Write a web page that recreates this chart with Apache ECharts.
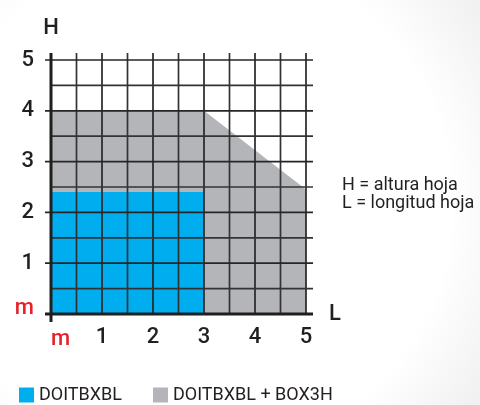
<!DOCTYPE html>
<html>
<head>
<meta charset="utf-8">
<script src="https://cdn.jsdelivr.net/npm/echarts@6/dist/echarts.min.js"></script>
<style>
  html, body { margin: 0; padding: 0; background: #fff; }
  #chart { width: 480px; height: 405px; }
</style>
</head>
<body>
<div id="chart"></div>
<script>
// Series names (legend order)
const seriesNames = ['DOITBXBL', 'DOITBXBL + BOX3H'];

// DOITBXBL: usable zone, length L (m) vs height H (m)
const blueL = [0, 3];
const blueH = [2.4, 2.4];

// DOITBXBL + BOX3H: upper outline of the zone
const grayL = [0, 3, 5];
const grayH = [4, 4, 2.45];

// Axis ticks and their labels
const tickValues = [0, 1, 2, 3, 4, 5];
const tickLabels = ['m', '1', '2', '3', '4', '5'];

// Grid every half metre
const gridValues = [0, 0.5, 1, 1.5, 2, 2.5, 3, 3.5, 4, 4.5, 5];

const notes = ['H = altura hoja', 'L = longitud hoja'];

const FONT = 'Roboto';
const TEXT = '#231f20';
const RED = '#e8202a';
const BLUE = '#00aeef';
const GRAY = '#b4b5b9';

const toPairs = (xs, ys) => xs.map((x, i) => [x, ys[i]]);

// one entry per grid line: [value, 0 = vertical | 1 = horizontal]
const gridData = [];
gridValues.forEach(v => gridData.push([v, 0]));
gridValues.forEach(v => gridData.push([v, 1]));

const lo = tickValues[0], hi = tickValues[tickValues.length - 1];

function renderGridLine(params, api) {
  const v = api.value(0);
  const horizontal = api.value(1) === 1;
  const isInt = Math.abs(v - Math.round(v)) < 1e-9;
  const isAxis = v === lo;
  let p0, p1;
  if (horizontal) {
    p0 = api.coord([lo, v]);
    p1 = api.coord([hi, v]);
    if (isInt) p0[0] -= 6;      // tick mark to the left
    p1[0] += 7;
  } else {
    p0 = api.coord([v, lo]);
    p1 = api.coord([v, hi]);
    if (isAxis) p0[1] += 8;     // axis runs below the baseline
    p1[1] -= 7;
  }
  return {
    type: 'line',
    z2: isAxis ? 10 : 1,
    shape: { x1: p0[0], y1: p0[1], x2: p1[0], y2: p1[1] },
    style: {
      stroke: isAxis ? '#1f1f1f' : (isInt ? '#262626' : '#333333'),
      lineWidth: isAxis ? 3 : 1.7
    }
  };
}

const labelFormatter = v => {
  const i = tickValues.indexOf(v);
  const t = i >= 0 ? tickLabels[i] : '';
  return t === 'm' ? '{m|m}' : t;
};

const chart = echarts.init(document.getElementById('chart'), null, { renderer: 'canvas' });

chart.setOption({
  animation: false,
  backgroundColor: {
    type: 'radial', x: 0.4, y: 0.5, r: 0.85,
    colorStops: [
      { offset: 0, color: '#ffffff' },
      { offset: 0.75, color: '#ffffff' },
      { offset: 1, color: '#f1f1f1' }
    ]
  },
  textStyle: { fontFamily: FONT },
  grid: { left: 51, right: 174, top: 60, bottom: 91 },
  xAxis: {
    type: 'value', min: lo, max: hi, interval: 1,
    name: 'L', nameLocation: 'end', nameGap: 23,
    nameTextStyle: { fontFamily: FONT, fontWeight: 500, fontSize: 22, color: TEXT, verticalAlign: 'middle' },
    axisLine: { show: false, onZero: false },
    axisTick: { show: false },
    splitLine: { show: false },
    axisLabel: {
      margin: 12, fontFamily: FONT, fontWeight: 500, fontSize: 22, color: TEXT,
      formatter: labelFormatter,
      rich: { m: { color: RED, fontFamily: FONT, fontWeight: 500, fontSize: 22, padding: [2, 0, 0, 19] } }
    }
  },
  yAxis: {
    type: 'value', min: lo, max: hi, interval: 1,
    name: 'H', nameLocation: 'end', nameGap: 21,
    nameTextStyle: { fontFamily: FONT, fontWeight: 500, fontSize: 22, color: TEXT, align: 'center' },
    axisLine: { show: false, onZero: false },
    axisTick: { show: false },
    splitLine: { show: false },
    axisLabel: {
      margin: 17, fontFamily: FONT, fontWeight: 500, fontSize: 22, color: TEXT,
      formatter: labelFormatter,
      rich: { m: { color: RED, fontFamily: FONT, fontWeight: 500, fontSize: 22, padding: [0, 0, 12, 0] } }
    }
  },
  legend: {
    data: seriesNames,
    left: 19, top: 386, padding: 0,
    icon: 'rect', itemWidth: 15, itemHeight: 15, itemGap: 31,
    textStyle: { fontFamily: FONT, fontSize: 18, color: TEXT, padding: [1, 0, 0, 0] }
  },
  graphic: [{
    type: 'text', left: 342, top: 176,
    style: {
      text: notes.join('\n'),
      font: '18px ' + FONT, fill: TEXT, lineHeight: 18
    }
  }],
  series: [
    {
      name: seriesNames[1], type: 'line', z: 1,
      data: toPairs(grayL, grayH),
      showSymbol: false, symbol: 'none',
      color: GRAY,
      lineStyle: { width: 0 },
      areaStyle: { color: GRAY, opacity: 1 }
    },
    {
      name: seriesNames[0], type: 'line', z: 2,
      data: toPairs(blueL, blueH),
      showSymbol: false, symbol: 'none',
      color: BLUE,
      lineStyle: { width: 0 },
      areaStyle: { color: BLUE, opacity: 1 }
    },
    {
      type: 'custom', z: 5, clip: false, silent: true,
      data: gridData,
      renderItem: renderGridLine
    }
  ]
});
</script>
</body>
</html>
